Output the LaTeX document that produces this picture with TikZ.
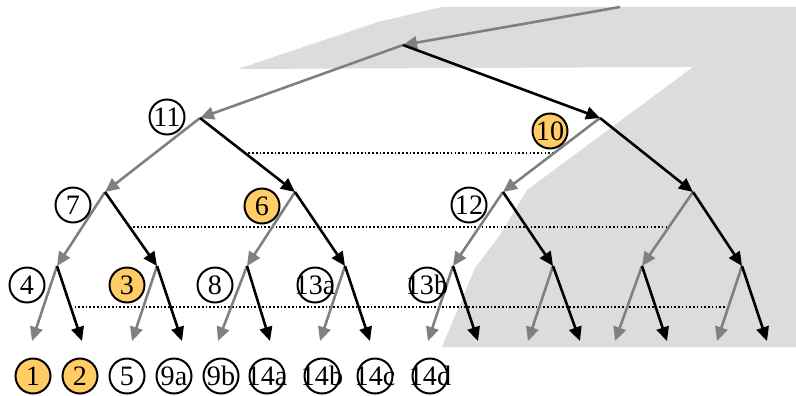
\documentclass[tikz,border=0pt]{standalone}
\usepackage{fontspec}
\setmainfont{Liberation Serif}
\usetikzlibrary{arrows.meta, calc}
\definecolor{prunegray}{RGB}{220,220,220}
\definecolor{leftgray}{RGB}{128,128,128}
\definecolor{hitorange}{RGB}{255,204,102}
\newcommand{\lbltext}[1]{\makebox[0pt]{#1}}
\tikzset{
  lbl/.style      = {circle, draw=black, line width=1.7pt, minimum size=1.05cm, inner sep=0pt, font=\fontsize{24}{24}\selectfont},
  lblhit/.style   = {lbl, fill=hitorange},
  leftarr/.style  = {-{Triangle[length=0.42cm, width=0.38cm]}, line width=2.2pt, leftgray},
  rightarr/.style = {-{Triangle[length=0.42cm, width=0.38cm]}, line width=2.2pt, black},
  cutline/.style  = {line width=1.4pt, dash pattern=on 1.4pt off 1.8pt},
  prunearea/.style= {fill=prunegray},
}
\begin{document}
\begin{tikzpicture}[x=0.03cm, y=-0.03cm]
\useasboundingbox (0,0) rectangle (796,395);

% pruned region
\fill[prunearea] (238,69) -- (378,22) -- (442,7) -- (796,7) -- (796,347) -- (442,347)
  -- (475,268) -- (500,235) -- (527,190) -- (693,67) -- cycle;

% tree points
\coordinate (p0) at (620,7);
\coordinate (p1) at (403,45);
\coordinate (p2) at (200,118);  \coordinate (p3) at (600,118);
\coordinate (p4) at (105,192);  \coordinate (p5) at (295,192);
\coordinate (p6) at (503,192);  \coordinate (p7) at (693,192);
\coordinate (p8) at (57,266);   \coordinate (p9) at (157,266);
\coordinate (p10) at (247,266); \coordinate (p11) at (345,266);
\coordinate (p12) at (453,266); \coordinate (p13) at (553,266);
\coordinate (p14) at (642,266); \coordinate (p15) at (742,266);
\coordinate (p16) at (32,341);  \coordinate (p17) at (82,341);
\coordinate (p18) at (132,341); \coordinate (p19) at (182,341);
\coordinate (p20) at (218,341); \coordinate (p21) at (270,341);
\coordinate (p22) at (320,341); \coordinate (p23) at (370,341);
\coordinate (p24) at (428,341); \coordinate (p25) at (478,341);
\coordinate (p26) at (528,341); \coordinate (p27) at (580,341);
\coordinate (p28) at (615,341); \coordinate (p29) at (667,341);
\coordinate (p30) at (717,341); \coordinate (p31) at (767,341);

% cut lines between levels
\draw[cutline] ($(p2)!0.47!(p5)$) -- ($(p3)!0.47!(p6)$);
\draw[cutline] ($(p4)!0.47!(p9)$) -- ($(p7)!0.47!(p14)$);
\draw[cutline] ($(p8)!0.55!(p17)$) -- ($(p15)!0.55!(p30)$);

% left branches
\path[every edge/.append style={leftarr}]
  (p0) edge (p1) (p1) edge (p2) (p2) edge (p4) (p3) edge (p6)
  (p4) edge (p8) (p5) edge (p10) (p6) edge (p12) (p7) edge (p14)
  (p8) edge (p16) (p9) edge (p18) (p10) edge (p20) (p11) edge (p22)
  (p12) edge (p24) (p13) edge (p26) (p14) edge (p28) (p15) edge (p30);

% right branches
\path[every edge/.append style={rightarr}]
  (p1) edge (p3) (p2) edge (p5) (p3) edge (p7)
  (p4) edge (p9) (p5) edge (p11) (p6) edge (p13) (p7) edge (p15)
  (p8) edge (p17) (p9) edge (p19) (p10) edge (p21) (p11) edge (p23)
  (p12) edge (p25) (p13) edge (p27) (p14) edge (p29) (p15) edge (p31);

% visit order labels
\node[lbl]    (l11) at (167,117) {\lbltext{11}};
\node[lblhit] (l10) at (550,131) {\lbltext{10}};
\node[lbl]    (l7)  at (73,205)  {\lbltext{7}};
\node[lblhit] (l6)  at (262,206) {\lbltext{6}};
\node[lbl]    (l12) at (469,205) {\lbltext{12}};
\node[lbl]    (l4)  at (27,285)  {\lbltext{4}};
\node[lblhit] (l3)  at (127,285) {\lbltext{3}};
\node[lbl]    (l8)  at (215,285) {\lbltext{8}};
\node[lbl]    (l13a) at (315,285) {\lbltext{13a}};
\node[lbl]    (l13b) at (427,285) {\lbltext{13b}};

% leaves
\node[lblhit] (l1)  at (33,376)  {\lbltext{1}};
\node[lblhit] (l2)  at (80,376)  {\lbltext{2}};
\node[lbl]    (l5)  at (127,376) {\lbltext{5}};
\node[lbl]    (l9a) at (174,376) {\lbltext{9a}};
\node[lbl]    (l9b) at (221,376) {\lbltext{9b}};
\node[lbl]    (l14a) at (267,376) {\lbltext{14a}};
\node[lbl]    (l14b) at (322,376) {\lbltext{14b}};
\node[lbl]    (l14c) at (375,376) {\lbltext{14c}};
\node[lbl]    (l14d) at (430,376) {\lbltext{14d}};

\end{tikzpicture}
\end{document}
